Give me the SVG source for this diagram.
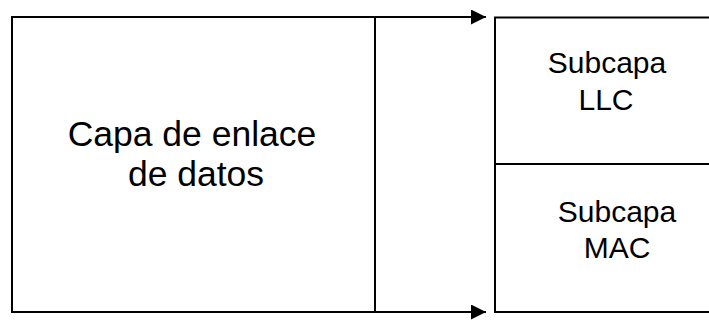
<svg xmlns="http://www.w3.org/2000/svg" width="709" height="320" viewBox="0 0 709 320">
  <defs>
    <style>
      .box { fill: #ffffff; stroke: #000000; stroke-width: 2; }
      .conn { fill: none; stroke: #000000; stroke-width: 2; }
      .big { font-family: "Liberation Sans", Arial, sans-serif; font-size: 35.5px; fill: #000000; text-anchor: middle; }
      .small { font-family: "Liberation Sans", Arial, sans-serif; font-size: 30px; fill: #000000; text-anchor: middle; }
    </style>
    <marker id="arrow" viewBox="0 0 15 15" refX="15" refY="7.5" markerWidth="15" markerHeight="15" markerUnits="userSpaceOnUse" orient="auto">
      <path d="M0,0 L15,7.5 L0,15 Z" fill="#000000"/>
    </marker>
  </defs>
  <rect width="709" height="320" fill="#ffffff"/>
  <g id="capa-enlace">
    <rect class="box" x="12" y="17" width="363" height="295"/>
    <text class="big" x="192" y="146">Capa de enlace</text>
    <text class="big" x="196" y="186">de datos</text>
  </g>
  <g id="subcapa-llc">
    <rect class="box" x="495" y="17.5" width="230" height="146.5"/>
    <text class="small" x="607" y="73">Subcapa</text>
    <text class="small" x="606" y="110">LLC</text>
  </g>
  <g id="subcapa-mac">
    <rect class="box" x="495" y="164" width="230" height="148"/>
    <text class="small" x="617" y="222">Subcapa</text>
    <text class="small" x="617" y="258">MAC</text>
  </g>
  <g id="connectors">
    <line class="conn" x1="375" y1="17" x2="486" y2="17" marker-end="url(#arrow)"/>
    <line class="conn" x1="375" y1="312" x2="486" y2="312" marker-end="url(#arrow)"/>
  </g>
</svg>
